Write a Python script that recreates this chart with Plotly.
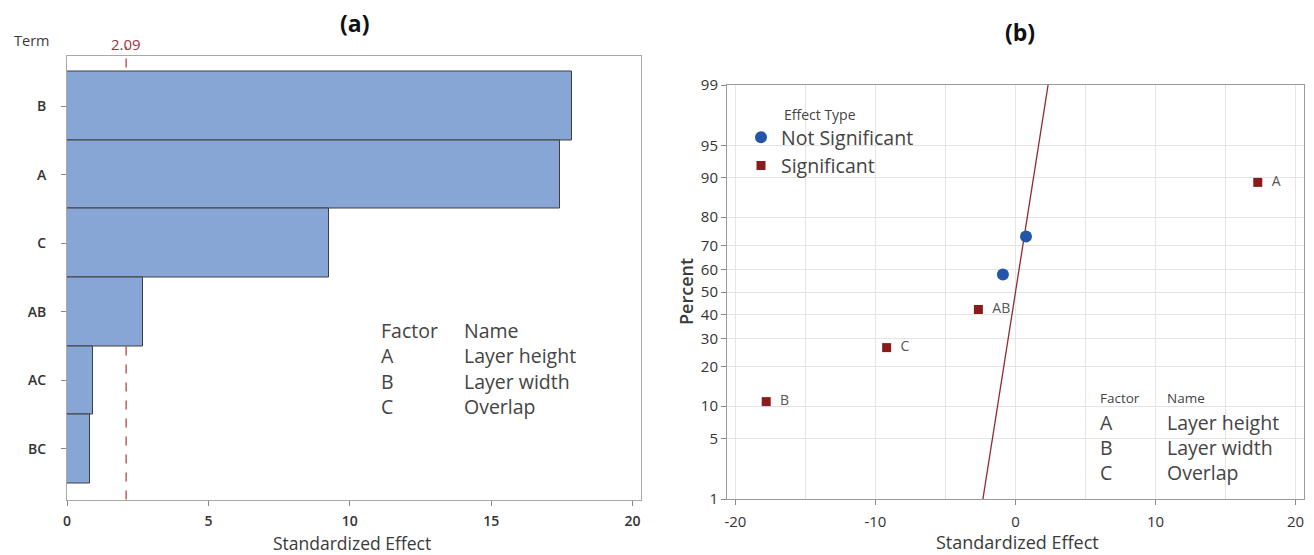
import statistics
import plotly.graph_objects as go

nd = statistics.NormalDist()

# ---------------- data ----------------
terms = ["B", "A", "C", "AB", "AC", "BC"]
effects_abs = [17.85, 17.45, 9.25, 2.7, 0.93, 0.8]
ref_value = 2.09
x_ticks_a = [0, 5, 10, 15, 20]

sig_terms = ["B", "C", "AB", "A"]
sig_effects = [-17.8, -9.2, -2.65, 17.3]
sig_percent = [10.9, 26.6, 42.2, 89.1]
ns_effects = [-0.9, 0.75]
ns_percent = [57.8, 73.4]
x_ticks_b = [-20, -10, 0, 10, 20]
x_minor_b = [-15, -5, 5, 15]
pct_ticks = [1, 5, 10, 20, 30, 40, 50, 60, 70, 80, 90, 95, 99]
line_mean = 0.0
line_sd = 1.0
line_pct = [1, 99]

factor_codes = ["A", "B", "C"]
factor_names = ["Layer height", "Layer width", "Overlap"]

W, H = 1314, 555
FONT = "Open Sans"
TXT = "#3a3a3a"


def px(x):
    return x / W


def py(y):
    return 1 - y / H


def z(p):
    return nd.inv_cdf(p / 100.0)


def note(text, x, y, size, color="#444", xanchor="center", weight=400, **kw):
    return dict(text=text, x=px(x), y=py(y), xref="paper", yref="paper",
                xanchor=xanchor, yanchor="middle", showarrow=False,
                font=dict(family=FONT, size=size, color=color, weight=weight), **kw)


fig = go.Figure()

# ---------------- (a) Pareto ----------------
fig.add_trace(go.Bar(
    x=effects_abs, y=terms, orientation="h", width=1,
    marker=dict(color="#87A6D6", line=dict(color="#3f3f3f", width=1)),
    xaxis="x", yaxis="y", showlegend=False,
))

# ---------------- (b) Normal plot ----------------
fig.add_trace(go.Scatter(
    x=[line_mean + line_sd * z(p) for p in line_pct],
    y=[z(p) for p in line_pct],
    mode="lines", line=dict(color="#8E2A2E", width=1.3),
    xaxis="x2", yaxis="y2", showlegend=False, hoverinfo="skip",
))
fig.add_trace(go.Scatter(
    x=ns_effects, y=[z(p) for p in ns_percent],
    mode="markers", name="Not Significant",
    marker=dict(symbol="circle", size=12, color="#2356A8"),
    xaxis="x2", yaxis="y2",
))
fig.add_trace(go.Scatter(
    x=sig_effects, y=[z(p) for p in sig_percent],
    mode="markers+text", name="Significant", text=sig_terms,
    texttemplate="  %{text}",
    textposition="middle right",
    textfont=dict(family=FONT, size=14, color="#555555"),
    marker=dict(symbol="square", size=9, color="#8B1A1A"),
    xaxis="x2", yaxis="y2",
))

ann = []
ann.append(note("<b>(a)</b>", 354, 23, 23, "#111"))
ann.append(note("<b>(b)</b>", 1020, 32, 23, "#111"))
ann.append(note("Term", 31, 40, 14.5, TXT, weight=500))
ann.append(dict(text=f"{ref_value:.2f}", x=ref_value, xref="x", y=py(44), yref="paper",
                xanchor="center", yanchor="middle",
                showarrow=False, font=dict(family=FONT, size=15, color="#A3333A")))
ann.append(note("Standardized Effect", 352, 543, 17.5, TXT, weight=500))
ann.append(note("Standardized Effect", 1017, 542, 18, TXT, weight=500))
ann.append(note("Percent", 686, 292, 18, TXT, weight=600, textangle=-90))
ann.append(note("Effect Type", 782, 114, 14, "#444", xanchor="left"))

# factor table (a)
ann.append(note("Factor", 379, 330, 19.5, "#444", xanchor="left"))
ann.append(note("Name", 462, 330, 19.5, "#444", xanchor="left"))
for i, (c, n) in enumerate(zip(factor_codes, factor_names)):
    yy = 355 + i * 26
    ann.append(note(c, 379, yy, 19.5, "#444", xanchor="left"))
    ann.append(note(n, 462, yy, 19.5, "#444", xanchor="left"))

# factor table (b)
ann.append(note("Factor", 1098, 398, 13.5, "#444", xanchor="left"))
ann.append(note("Name", 1165, 398, 13.5, "#444", xanchor="left"))
for i, (c, n) in enumerate(zip(factor_codes, factor_names)):
    yy = 422 + i * 25
    ann.append(note(c, 1098, yy, 19.5, "#444", xanchor="left"))
    ann.append(note(n, 1165, yy, 19.5, "#444", xanchor="left"))

shapes = [dict(type="line", xref="x", yref="y domain", x0=ref_value, x1=ref_value,
               y0=0, y1=1.02, layer="below",
               line=dict(color="#B0343A", width=1.2, dash="dash"))]

fig.update_layout(
    width=W, height=H, autosize=False,
    margin=dict(l=0, r=0, t=0, b=0, pad=0, autoexpand=False),
    paper_bgcolor="white", plot_bgcolor="white",
    font=dict(family=FONT, color=TXT),
    bargap=0,
    annotations=ann, shapes=shapes,
    xaxis=dict(domain=[px(67), px(641)], range=[0, 20.3], tickvals=x_ticks_a,
               showgrid=False, zeroline=False, showline=True, mirror=True,
               linecolor="#A8A8A8", linewidth=1, ticks="outside", ticklen=5,
               tickcolor="#888", ticklabelstandoff=4,
               tickfont=dict(family=FONT, size=14, color="#333", weight=600),
               anchor="y", automargin=False),
    yaxis=dict(domain=[py(499.5), py(55.5)], type="category",
               categoryorder="array", categoryarray=terms[::-1],
               range=[-0.74, 5.74], showgrid=False, zeroline=False,
               showline=True, mirror=True, linecolor="#A8A8A8", linewidth=1,
               ticks="outside", ticklen=5, tickcolor="#888", ticklabelstandoff=12,
               tickfont=dict(family=FONT, size=14, color="#333", weight=600), anchor="x",
               automargin=False),
    xaxis2=dict(domain=[px(727), px(1304)], range=[-20.6, 20.6],
                tickvals=x_ticks_b, ticktext=[str(v) for v in x_ticks_b],
                showgrid=True, gridcolor="#E4E4E4", zeroline=False,
                minor=dict(tickvals=x_minor_b, showgrid=True, gridcolor="#E4E4E4", ticks=""),
                showline=True, mirror=True, linecolor="#9A9A9A", linewidth=1,
                ticks="outside", ticklen=5, tickcolor="#888", ticklabelstandoff=4,
                tickfont=dict(family=FONT, size=15, color="#333", weight=500), anchor="y2",
                automargin=False),
    yaxis2=dict(domain=[py(499), py(85)], range=[z(1), z(99)],
                tickvals=[z(p) for p in pct_ticks], ticktext=[str(p) for p in pct_ticks],
                showgrid=True, gridcolor="#E4E4E4", zeroline=False,
                showline=True, mirror=True, linecolor="#9A9A9A", linewidth=1,
                ticks="outside", ticklen=5, tickcolor="#888",
                tickfont=dict(family=FONT, size=15, color="#333", weight=500), anchor="x2",
                automargin=False),
    showlegend=True,
    legend=dict(x=px(741), y=py(118), xanchor="left", yanchor="top",
                bgcolor="rgba(0,0,0,0)", borderwidth=0,
                font=dict(family=FONT, size=19.5, color="#444"),
                tracegroupgap=0, itemsizing="trace"),
)

fig.write_html("out.html")
